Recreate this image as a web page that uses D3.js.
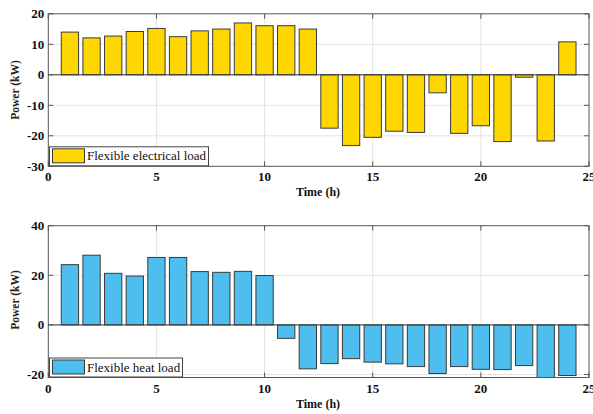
<!DOCTYPE html>
<html>
<head>
<meta charset="utf-8">
<script src="https://cdn.jsdelivr.net/npm/d3@7"></script>
</head>
<body style="margin:0;padding:0;background:#fff">
<svg id="chart" width="593" height="414"></svg>
<script>
// Hours of the day (1..24)
const hours = d3.range(1, 25);

// Flexible electrical load power per hour (kW)
const electricalLoad = [14.0, 12.1, 12.7, 14.2, 15.2, 12.5, 14.4, 15.0, 17.0, 16.1, 16.1, 15.0,
                        -17.5, -23.2, -20.5, -18.5, -18.9, -5.9, -19.2, -16.7, -21.9, -0.8, -21.7, 10.8];

// Flexible heat load power per hour (kW)
const heatLoad = [24.3, 28.1, 20.8, 19.7, 27.2, 27.2, 21.5, 21.2, 21.6, 19.9, -5.4,
                  -17.7, -15.6, -13.6, -15.0, -15.7, -16.8, -19.6, -16.8, -17.9, -18.0, -16.4, -22.5, -20.4];

const xTicks = [0, 5, 10, 15, 20, 25];
const yTicksElec = [-30, -20, -10, 0, 10, 20];
const yTicksHeat = [-20, 0, 20, 40];

const svg = d3.select("#chart");

// text helper: serif face, size and weight set on each element
function label(parent, size, weight) {
  return parent.append("text")
    .attr("font-family", "Liberation Serif")
    .style("font-family", '"Liberation Serif", monospace')
    .attr("font-size", size)
    .attr("font-weight", weight);
}

function panel(cfg) {
  const g = svg.append("g");
  const x = d3.scaleLinear().domain([0, 25]).range([48.3, 589]);
  const y = d3.scaleLinear().domain(cfg.yDomain).range([cfg.bottom, cfg.top]);
  const left = x.range()[0], right = x.range()[1];
  const clipId = "clip-" + cfg.id;

  g.append("clipPath").attr("id", clipId)
    .append("rect").attr("x", left).attr("y", cfg.top)
    .attr("width", right - left).attr("height", cfg.bottom - cfg.top);

  // grid lines
  const grid = g.append("g").attr("stroke", "#e3e3e3").attr("stroke-width", 1);
  xTicks.slice(1, -1).forEach(t => grid.append("line")
    .attr("x1", x(t)).attr("x2", x(t)).attr("y1", cfg.top).attr("y2", cfg.bottom));
  cfg.yTicks.forEach(t => {
    if (y(t) > cfg.top + 0.5 && y(t) < cfg.bottom - 0.5)
      grid.append("line").attr("x1", left).attr("x2", right).attr("y1", y(t)).attr("y2", y(t));
  });

  // bars
  const bw = x(0.8) - x(0);
  g.append("g").attr("clip-path", `url(#${clipId})`)
    .selectAll("rect").data(cfg.values).join("rect")
    .attr("x", (d, i) => x(hours[i]) - bw / 2)
    .attr("width", bw)
    .attr("y", d => y(Math.max(0, d)))
    .attr("height", d => Math.abs(y(d) - y(0)))
    .attr("fill", cfg.color)
    .attr("stroke", "#3a3a3a")
    .attr("stroke-width", 1);

  // baseline
  g.append("line").attr("x1", left).attr("x2", right)
    .attr("y1", y(0)).attr("y2", y(0)).attr("stroke", "#3a3a3a").attr("stroke-width", 1);

  // axes box
  g.append("rect").attr("x", left).attr("y", cfg.top)
    .attr("width", right - left).attr("height", cfg.bottom - cfg.top)
    .attr("fill", "none").attr("stroke", "#555").attr("stroke-width", 1);

  // inward ticks
  const tk = g.append("g").attr("stroke", "#555").attr("stroke-width", 1);
  xTicks.forEach(t => {
    tk.append("line").attr("x1", x(t)).attr("x2", x(t)).attr("y1", cfg.bottom).attr("y2", cfg.bottom - 5);
    tk.append("line").attr("x1", x(t)).attr("x2", x(t)).attr("y1", cfg.top).attr("y2", cfg.top + 5);
  });
  cfg.yTicks.forEach(t => {
    tk.append("line").attr("x1", left).attr("x2", left + 5).attr("y1", y(t)).attr("y2", y(t));
    tk.append("line").attr("x1", right).attr("x2", right - 5).attr("y1", y(t)).attr("y2", y(t));
  });

  // tick labels
  xTicks.forEach(t => label(g, 13, "bold").attr("fill", "#111")
    .attr("x", x(t)).attr("y", cfg.bottom + 15).attr("text-anchor", "middle").text(t));
  cfg.yTicks.forEach(t => label(g, 13, "bold").attr("fill", "#111")
    .attr("x", left - 4).attr("y", y(t) + 4.5).attr("text-anchor", "end").text(t));

  // axis titles
  label(g, 12, "bold").attr("fill", "#111")
    .attr("x", 318).attr("y", cfg.bottom + 30).attr("text-anchor", "middle").text("Time (h)");
  label(g, 11.5, "bold").attr("fill", "#222")
    .attr("transform", `translate(19,${cfg.labelY}) rotate(-90)`)
    .attr("text-anchor", "middle").text("Power (kW)");

  // legend
  const lg = g.append("g");
  lg.append("rect").attr("x", 49.5).attr("y", cfg.bottom - 19.5)
    .attr("width", cfg.legendW).attr("height", 19)
    .attr("fill", "#fff").attr("stroke", "#444").attr("stroke-width", 1);
  lg.append("rect").attr("x", 52.5).attr("y", cfg.bottom - 17.5)
    .attr("width", 32).attr("height", 14)
    .attr("fill", cfg.color).attr("stroke", "#3a3a3a").attr("stroke-width", 1);
  label(lg, 13, "normal").attr("fill", "#111")
    .attr("x", 87).attr("y", cfg.bottom - 6).text(cfg.label);
}

panel({
  id: "elec", values: electricalLoad, yDomain: [-30, 20], yTicks: yTicksElec,
  top: 13.8, bottom: 166.3, color: "#FFD700", label: "Flexible electrical load",
  legendW: 159, labelY: 90
});

panel({
  id: "heat", values: heatLoad, yDomain: [-21.2, 40], yTicks: yTicksHeat,
  top: 225.7, bottom: 377.5, color: "#4DBEEE", label: "Flexible heat load",
  legendW: 133, labelY: 300
});
</script>
</body>
</html>
